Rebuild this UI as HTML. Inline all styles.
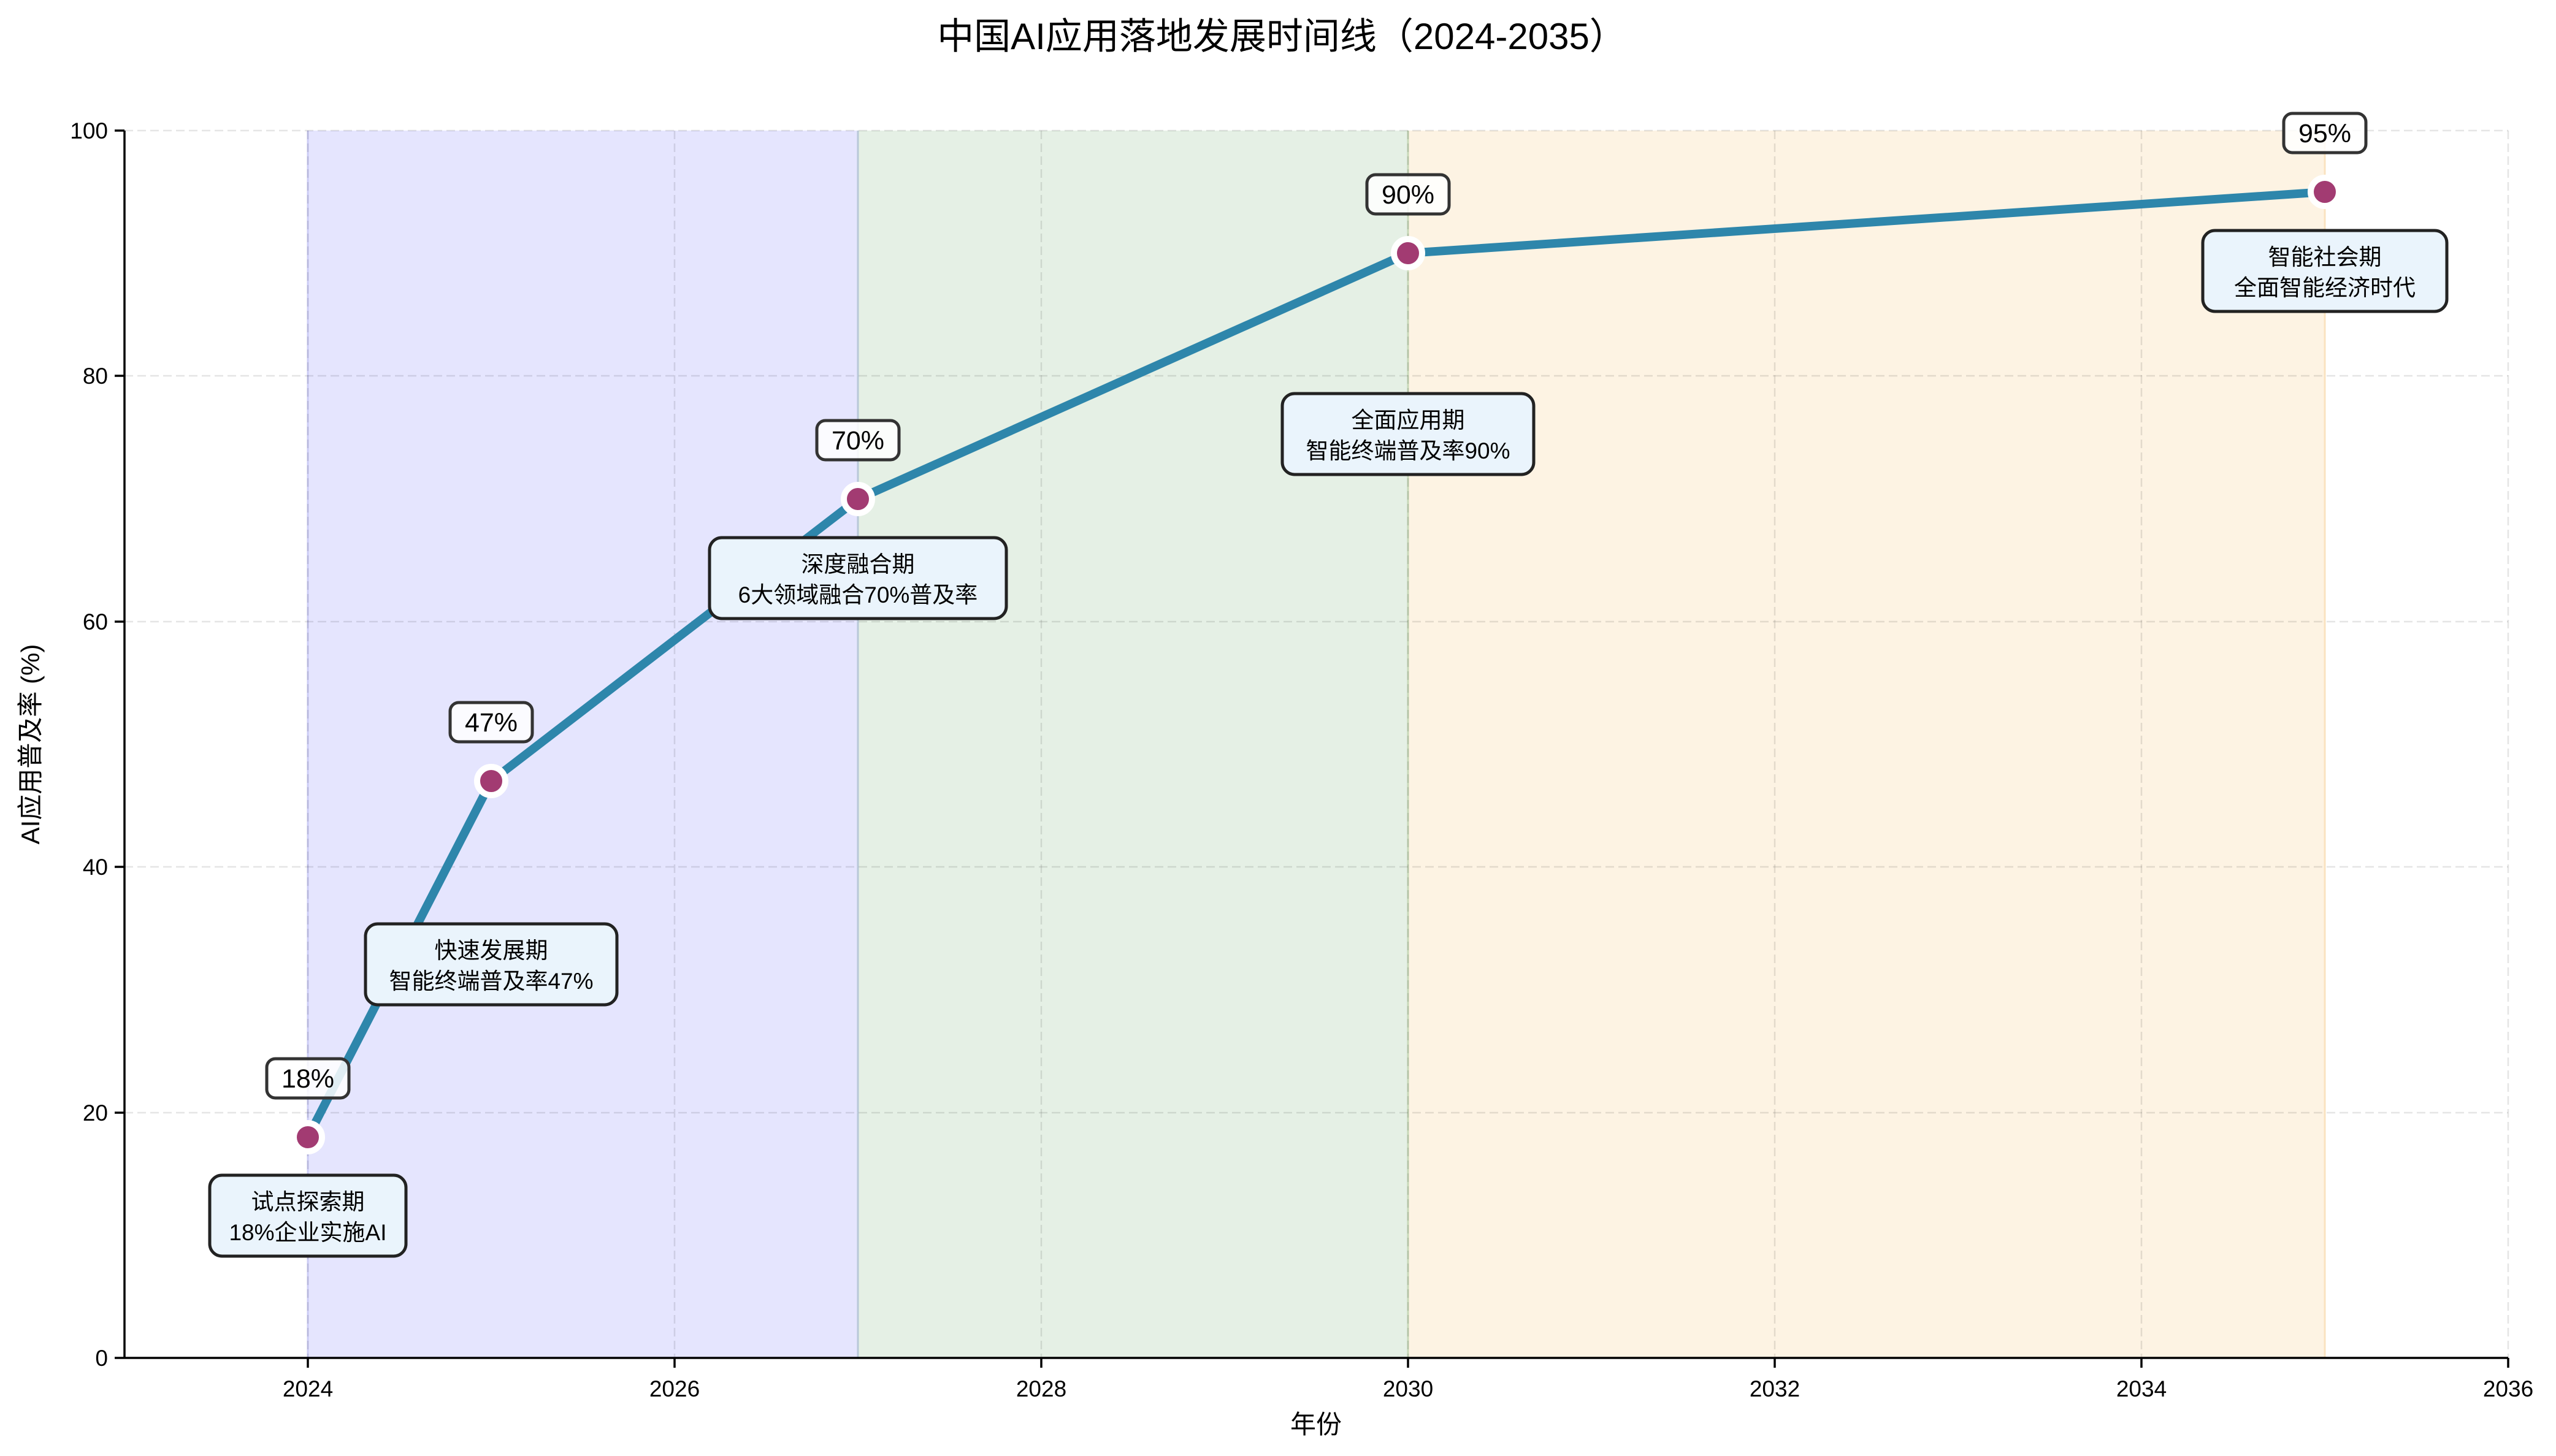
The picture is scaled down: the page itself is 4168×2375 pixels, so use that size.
<!DOCTYPE html>
<html><head><meta charset="utf-8"><style>
html,body{margin:0;padding:0;background:#fff;}
svg{display:block;font-family:"Liberation Sans","Noto Sans CJK SC",sans-serif;}
</style></head><body>
<svg width="4168" height="2375" viewBox="0 0 4168 2375" xmlns="http://www.w3.org/2000/svg">
<rect width="4168" height="2375" fill="#fff"/>
<rect x="502" y="213" width="897" height="2002" fill="#e5e5fe"/>
<rect x="1399" y="213" width="897" height="2002" fill="#e5f0e5"/>
<rect x="2296" y="213" width="1495" height="2002" fill="#fdf3e3"/>
<line x1="502" y1="213" x2="502" y2="2215" stroke="#ccccf5" stroke-width="3"/>
<line x1="1399" y1="213" x2="1399" y2="2215" stroke="#b8c8d8" stroke-width="3"/>
<line x1="2296" y1="213" x2="2296" y2="2215" stroke="#c8d8b8" stroke-width="3"/>
<line x1="3791" y1="213" x2="3791" y2="2215" stroke="#fae3c0" stroke-width="3"/>
<g stroke="#000" stroke-opacity="0.1" stroke-width="2.5" stroke-dasharray="14,7">
<line x1="502" y1="213" x2="502" y2="2215"/><line x1="1100" y1="213" x2="1100" y2="2215"/>
<line x1="1698" y1="213" x2="1698" y2="2215"/><line x1="2296" y1="213" x2="2296" y2="2215"/>
<line x1="2894" y1="213" x2="2894" y2="2215"/><line x1="3492" y1="213" x2="3492" y2="2215"/>
<line x1="4090" y1="213" x2="4090" y2="2215"/>
<line x1="203" y1="213" x2="4090" y2="213"/><line x1="203" y1="613" x2="4090" y2="613"/>
<line x1="203" y1="1014" x2="4090" y2="1014"/><line x1="203" y1="1414" x2="4090" y2="1414"/>
<line x1="203" y1="1815" x2="4090" y2="1815"/>
</g>
<line x1="203" y1="2215" x2="4090" y2="2215" stroke="#000" stroke-width="3.5"/>
<line x1="203" y1="213" x2="203" y2="2215" stroke="#000" stroke-width="3.5"/>
<g stroke="#000" stroke-width="3.5">
<line x1="502" y1="2215" x2="502" y2="2231"/><line x1="1100" y1="2215" x2="1100" y2="2231"/>
<line x1="1698" y1="2215" x2="1698" y2="2231"/><line x1="2296" y1="2215" x2="2296" y2="2231"/>
<line x1="2894" y1="2215" x2="2894" y2="2231"/><line x1="3492" y1="2215" x2="3492" y2="2231"/>
<line x1="4090" y1="2215" x2="4090" y2="2231"/>
<line x1="187" y1="2215" x2="203" y2="2215"/><line x1="187" y1="1815" x2="203" y2="1815"/>
<line x1="187" y1="1414" x2="203" y2="1414"/><line x1="187" y1="1014" x2="203" y2="1014"/>
<line x1="187" y1="613" x2="203" y2="613"/><line x1="187" y1="213" x2="203" y2="213"/>
</g>
<g font-size="37" text-anchor="middle" fill="#000">
<text x="502" y="2278">2024</text><text x="1100" y="2278">2026</text><text x="1698" y="2278">2028</text>
<text x="2296" y="2278">2030</text><text x="2894" y="2278">2032</text><text x="3492" y="2278">2034</text>
<text x="4090" y="2278">2036</text>
</g>
<g font-size="37" text-anchor="end" fill="#000">
<text x="176" y="2228">0</text><text x="176" y="1828">20</text><text x="176" y="1427">40</text>
<text x="176" y="1027">60</text><text x="176" y="626">80</text><text x="176" y="226">100</text>
</g>
<text x="2146" y="2338" font-size="42" text-anchor="middle">年份</text>
<text transform="translate(64,1214) rotate(-90)" font-size="42" text-anchor="middle">AI应用普及率 (%)</text>
<text x="2090" y="80" font-size="60" text-anchor="middle">中国AI应用落地发展时间线（2024-2035）</text>
<polyline points="502,1855 801,1274 1399,814 2296,413 3791,313" fill="none" stroke="#2e86ab" stroke-width="14" stroke-linejoin="round"/>
<g fill="#a23b72" stroke="#fff" stroke-width="10">
<circle cx="502" cy="1855" r="23"/><circle cx="801" cy="1274" r="23"/><circle cx="1399" cy="814" r="23"/>
<circle cx="2296" cy="413" r="23"/><circle cx="3791" cy="313" r="23"/>
</g>
<g font-size="43" text-anchor="middle">
<rect x="435" y="1727" width="134" height="64" rx="14" fill="#fff" fill-opacity="0.85" stroke="#333" stroke-width="5"/><text x="502" y="1774">18%</text>
<rect x="734" y="1146" width="134" height="64" rx="14" fill="#fff" fill-opacity="0.85" stroke="#333" stroke-width="5"/><text x="801" y="1193">47%</text>
<rect x="1332" y="686" width="134" height="64" rx="14" fill="#fff" fill-opacity="0.85" stroke="#333" stroke-width="5"/><text x="1399" y="733">70%</text>
<rect x="2229" y="285" width="134" height="64" rx="14" fill="#fff" fill-opacity="0.85" stroke="#333" stroke-width="5"/><text x="2296" y="332">90%</text>
<rect x="3724" y="185" width="134" height="64" rx="14" fill="#fff" fill-opacity="0.85" stroke="#333" stroke-width="5"/><text x="3791" y="232">95%</text>
</g>
<g font-size="37" text-anchor="middle">
<rect x="342" y="1917" width="320" height="132" rx="20" fill="#eaf4fc" stroke="#222" stroke-width="5"/>
<text x="502" y="1973">试点探索期</text><text x="502" y="2023">18%企业实施AI</text>
<rect x="596" y="1507" width="410" height="132" rx="20" fill="#eaf4fc" stroke="#222" stroke-width="5"/>
<text x="801" y="1563">快速发展期</text><text x="801" y="1613">智能终端普及率47%</text>
<rect x="1157" y="877" width="484" height="132" rx="20" fill="#eaf4fc" stroke="#222" stroke-width="5"/>
<text x="1399" y="933">深度融合期</text><text x="1399" y="983">6大领域融合70%普及率</text>
<rect x="2091" y="642" width="410" height="132" rx="20" fill="#eaf4fc" stroke="#222" stroke-width="5"/>
<text x="2296" y="698">全面应用期</text><text x="2296" y="748">智能终端普及率90%</text>
<rect x="3592" y="376" width="398" height="132" rx="20" fill="#eaf4fc" stroke="#222" stroke-width="5"/>
<text x="3791" y="432">智能社会期</text><text x="3791" y="482">全面智能经济时代</text>
</g>
</svg>
</body></html>
